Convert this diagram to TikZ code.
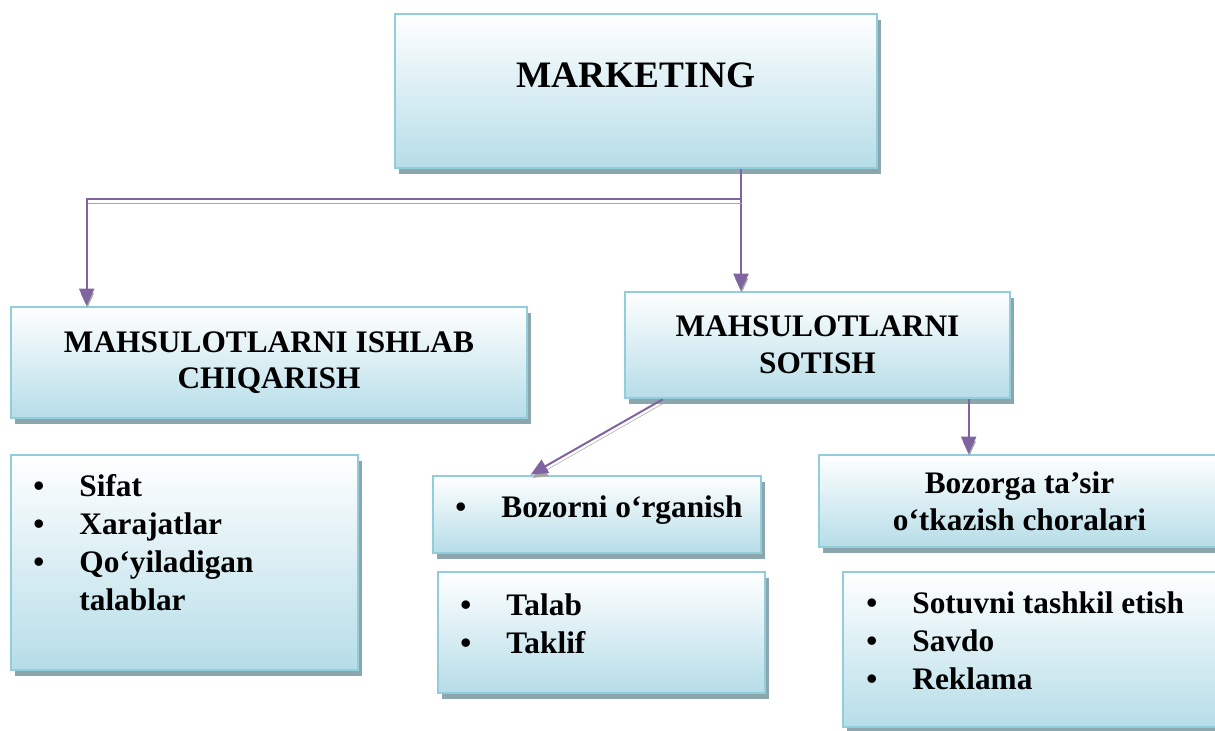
\documentclass[tikz,border=0pt]{standalone}
\usepackage{fontspec}
\setmainfont{Liberation Serif}
\usetikzlibrary{arrows.meta}
\usetikzlibrary{shadows}
\usetikzlibrary{calc}
\definecolor{boxrim}{RGB}{146,205,220}
\definecolor{boxfill}{RGB}{182,221,232}
\definecolor{boxshade}{RGB}{140,166,173}
\definecolor{linkpurple}{RGB}{128,100,162}
\definecolor{linkshade}{RGB}{165,165,165}
\newdimen\pxu \pxu=0.75pt
\tikzset{
  card/.style={draw=boxrim, line width=2pt, top color=white, bottom color=boxfill, drop shadow={shadow xshift=3pt, shadow yshift=-4.5pt, fill=boxshade, opacity=1}, inner sep=0pt},
  heading/.style={align=center, font=\bfseries\fontsize{23.5}{27.5}\selectfont},
  items/.style={anchor=base west, inner sep=0pt, font=\bfseries\fontsize{23.5}{28.5}\selectfont},
  link/.style={draw=linkpurple, line width=1.5pt, -{Triangle[length=12.75pt,width=11.25pt]}, preaction={draw=linkshade, transform canvas={xshift=0.5pt, yshift=-3pt}}}
}

\begin{document}
\begin{tikzpicture}[x=0.75pt, y=-0.75pt]
\useasboundingbox (0,0) rectangle (1215,731);
\node[card, minimum width=482\pxu, minimum height=154\pxu, font=\bfseries\fontsize{28}{32}\selectfont, text depth=24pt] (mkt) at (636,91) {MARKETING};
\node[card, heading, minimum width=516\pxu, minimum height=111\pxu] (prod) at (269,362.5) {MAHSULOTLARNI ISHLAB\\CHIQARISH};
\node[card, heading, minimum width=385\pxu, minimum height=106\pxu] (sales) at (817.5,345) {MAHSULOTLARNI\\SOTISH};
\node[card, minimum width=347\pxu, minimum height=215\pxu] (quality) at (184.5,562.5) {};
\node[card, minimum width=328\pxu, minimum height=77\pxu] (study) at (597,514.5) {};
\node[card, heading, minimum width=401\pxu, minimum height=92\pxu] (impact) at (1019.5,501) {Bozorga ta’sir\\o‘tkazish choralari};
\node[card, minimum width=327\pxu, minimum height=121\pxu] (demand) at (601.5,632.5) {};
\node[card, minimum width=382\pxu, minimum height=155\pxu] (tools) at (1034,649.5) {};

\node[items] (qualitylist) at ($(quality.north west)+(23.5,43)$) {\begin{tabular}[t]{@{}p{46\pxu}@{}l@{}}
\textbullet & Sifat\\
\textbullet & Xarajatlar\\
\textbullet & Qo‘yiladigan\\
 & talablar
\end{tabular}};
\node[items] (studylist) at ($(study.north west)+(23.5,43)$) {\begin{tabular}[t]{@{}p{46\pxu}@{}l@{}}
\textbullet & Bozorni o‘rganish
\end{tabular}};
\node[items] (demandlist) at ($(demand.north west)+(23.5,45)$) {\begin{tabular}[t]{@{}p{46\pxu}@{}l@{}}
\textbullet & Talab\\
\textbullet & Taklif
\end{tabular}};
\node[items] (toolslist) at ($(tools.north west)+(24.5,43)$) {\begin{tabular}[t]{@{}p{46\pxu}@{}l@{}}
\textbullet & Sotuvni tashkil etish\\
\textbullet & Savdo\\
\textbullet & Reklama
\end{tabular}};

\coordinate (split) at (741,199);
\coordinate (leftfoot) at ($(sales.south west)+(39,0)$);
\coordinate (rightfoot) at ($(sales.south west)+(345,0)$);
\draw[link] (mkt.south -| split) -- (sales.north -| split);
\draw[link] (split) -| ($(prod.north west)+(77,0)$);
\draw[link] (leftfoot) -- ($(study.north west)+(99,0)$);
\draw[link] (rightfoot) -- (rightfoot |- impact.north);
\end{tikzpicture}
\end{document}
